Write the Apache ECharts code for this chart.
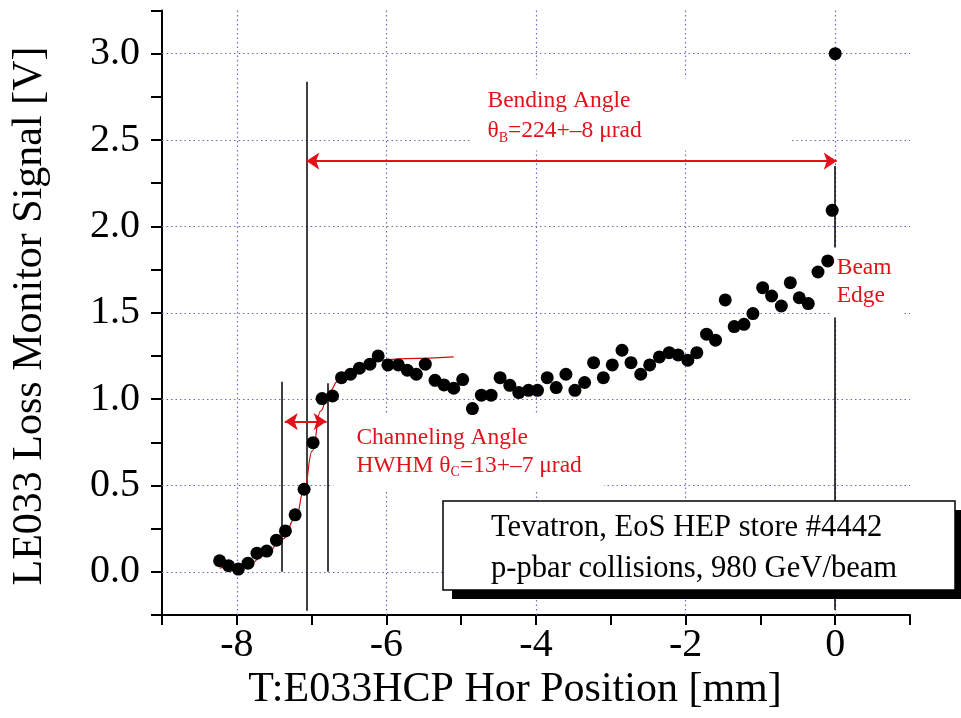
<!DOCTYPE html>
<html>
<head>
<meta charset="utf-8">
<script src="https://cdn.jsdelivr.net/npm/echarts@6/dist/echarts.min.js"></script>
<style>
  html, body { margin: 0; padding: 0; background: #fff; }
  #chart { width: 961px; height: 718px; }
</style>
</head>
<body>
<div id="chart"></div>
<script>
// Axis tick labels (ticks every 1 mm / 0.25 V, labels on the major ones only)
const xLabelValues = [-8, -6, -4, -2, 0];
const xLabelText = ['-8', '-6', '-4', '-2', '0'];
const yLabelValues = [0, 0.5, 1.0, 1.5, 2.0, 2.5, 3.0];
const yLabelText = ['0.0', '0.5', '1.0', '1.5', '2.0', '2.5', '3.0'];

// Collimator horizontal position [mm]
const position = [
  -8.23, -8.11, -7.98, -7.85, -7.73, -7.60, -7.47, -7.35, -7.22, -7.10,
  -6.98, -6.86, -6.72, -6.60, -6.48, -6.36, -6.22, -6.11, -5.98, -5.84,
  -5.72, -5.60, -5.48, -5.35, -5.23, -5.10, -4.98, -4.85, -4.73, -4.60,
  -4.48, -4.35, -4.23, -4.10, -3.98, -3.85, -3.73, -3.60, -3.48, -3.35,
  -3.23, -3.10, -2.98, -2.85, -2.73, -2.60, -2.48, -2.35, -2.22, -2.10,
  -1.97, -1.85, -1.72, -1.60, -1.47, -1.35, -1.22, -1.10, -0.97, -0.85,
  -0.72, -0.60, -0.48, -0.36, -0.23, -0.10, -0.04, 0.00
];
// LE033 loss monitor signal [V]
const signal = [
  0.064, 0.035, 0.016, 0.050, 0.108, 0.120, 0.183, 0.237, 0.330, 0.478,
  0.748, 1.003, 1.018, 1.124, 1.144, 1.179, 1.202, 1.250, 1.198, 1.198,
  1.167, 1.144, 1.202, 1.109, 1.082, 1.063, 1.113, 0.945, 1.023, 1.023,
  1.124, 1.080, 1.038, 1.051, 1.051, 1.124, 1.067, 1.144, 1.051, 1.096,
  1.211, 1.124, 1.198, 1.283, 1.211, 1.144, 1.198, 1.244, 1.269, 1.256,
  1.225, 1.269, 1.376, 1.341, 1.574, 1.420, 1.433, 1.495, 1.645, 1.597,
  1.539, 1.674, 1.587, 1.553, 1.736, 1.800, 2.093, 3.000
];

// Fitted channeling edge curve
const fitX = [-8.23, -7.84, -7.62, -7.39, -7.21, -7.10, -6.99, -6.88, -6.77, -6.64, -6.37, -6.10, -5.74, -5.10];
const fitY = [0.021, 0.045, 0.098, 0.189, 0.314, 0.478, 0.700, 0.930, 1.040, 1.105, 1.186, 1.225, 1.234, 1.244];

// Guide lines [x1, y1, x2, y2] in data units
const guideLines = [
  [-7.07, -0.226, -7.07, 2.837],
  [-7.394, 0.0, -7.394, 1.101],
  [-6.778, 0.0, -6.778, 1.092],
  [0.0, -0.22, 0.0, 2.35]
];
const bendingArrow = [-7.07, 2.378, 0.02, 2.378];
const channelArrow = [-7.358, 0.87, -6.80, 0.87];

// Annotation anchors (top-left of each text block) in data units
const bendingAnchor = [-4.856, 2.853];
const channelAnchor = [-6.702, 0.914];
const beamAnchor = [-0.04, 1.875];

const SERIF = '"Liberation Serif", "Times New Roman", serif';
const RED = '#e3121a';
const GRID_BLUE = '#6a6ac4';

function pickLabel(values, texts) {
  return function (v) {
    const i = values.findIndex(t => Math.abs(t - v) < 1e-9);
    return i < 0 ? '' : texts[i];
  };
}

const points = position.map((x, i) => [x, signal[i]]);
const fitCurve = fitX.map((x, i) => [x, fitY[i]]);

const gridMarks = [
  ...xLabelValues.map(v => ({ xAxis: v })),
  ...yLabelValues.map(v => ({ yAxis: v }))
];

const guideMarks = guideLines.map(g => [
  { coord: [g[0], g[1]], symbol: 'none' },
  { coord: [g[2], g[3]], symbol: 'none' }
]);
const arrowMarks = [bendingArrow, channelArrow].map(a => [
  { coord: [a[0], a[1]], symbol: 'arrow', lineStyle: { color: RED, width: 2 } },
  { coord: [a[2], a[3]], symbol: 'arrow' }
]);

const noteText = {
  fontFamily: SERIF,
  fontSize: 23.5,
  color: RED,
  opacity: 1
};
const subText = {
  fontFamily: SERIF,
  fontSize: 14,
  color: RED,
  opacity: 1,
  verticalAlign: 'bottom',
  padding: [12, 0, 0, 0]
};

const notes = [
  {
    value: bendingAnchor,
    label: {
      formatter: '{a|Bending Angle}\n{a|θ}{s|B}{a|=224+–8 μrad}',
      padding: [7, 150, 5, 16],
      lineHeight: 30,
      rich: { a: Object.assign({ lineHeight: 30 }, noteText), s: Object.assign({ lineHeight: 30 }, subText) }
    }
  },
  {
    value: channelAnchor,
    label: {
      formatter: '{a|Channeling Angle}\n{a|HWHM θ}{s|C}{a|=13+–7 μrad}',
      padding: [10, 22, 11, 23],
      lineHeight: 28,
      rich: { a: Object.assign({ lineHeight: 28 }, noteText), s: Object.assign({ lineHeight: 28 }, subText) }
    }
  },
  {
    value: beamAnchor,
    label: {
      formatter: '{a|Beam}\n{a|Edge}',
      padding: [6, 12, 8, 5],
      lineHeight: 28,
      rich: { a: Object.assign({ lineHeight: 28 }, noteText) }
    }
  }
];

const chart = echarts.init(document.getElementById('chart'));

chart.setOption({
  animation: false,
  backgroundColor: '#fff',
  grid: { left: 162, right: 51, top: 10.5, bottom: 103, containLabel: false },
  xAxis: {
    type: 'value',
    min: -9, max: 1, interval: 1,
    axisLine: { show: true, onZero: false, lineStyle: { color: '#000', width: 2 } },
    axisTick: { show: true, inside: false, length: 10, lineStyle: { color: '#000', width: 2 } },
    splitLine: { show: false },
    axisLabel: {
      formatter: pickLabel(xLabelValues, xLabelText),
      fontFamily: SERIF, fontSize: 40, color: '#000', margin: 10
    }
  },
  yAxis: {
    type: 'value',
    min: -0.25, max: 3.25, interval: 0.25,
    axisLine: { show: true, onZero: false, lineStyle: { color: '#000', width: 2 } },
    axisTick: { show: true, inside: false, length: 11, lineStyle: { color: '#000', width: 2 } },
    splitLine: { show: false },
    axisLabel: {
      formatter: pickLabel(yLabelValues, yLabelText),
      fontFamily: SERIF, fontSize: 40, color: '#000', margin: 22
    }
  },
  series: [
    {
      name: 'grid',
      type: 'line',
      data: [],
      silent: true,
      z: 1,
      markLine: {
        z: 1,
        silent: true,
        symbol: 'none',
        animation: false,
        label: { show: false },
        lineStyle: { color: GRID_BLUE, width: 1.2, type: [1.5, 3], opacity: 1 },
        data: gridMarks
      }
    },
    {
      name: 'guides',
      type: 'line',
      data: [],
      silent: true,
      z: 2,
      markLine: {
        z: 2,
        silent: true,
        animation: false,
        symbolSize: 13,
        label: { show: false },
        lineStyle: { color: '#000', width: 1.5, type: 'solid', opacity: 1 },
        data: guideMarks.concat(arrowMarks)
      }
    },
    {
      name: 'notes',
      type: 'scatter',
      silent: true,
      z: 3,
      symbolSize: 1,
      itemStyle: { color: 'rgba(0,0,0,0)', opacity: 1 },
      label: {
        show: true,
        position: [0, 0],
        align: 'left',
        verticalAlign: 'top',
        backgroundColor: '#fff',
        opacity: 1
      },
      data: notes
    },
    {
      name: 'fit',
      type: 'line',
      data: fitCurve,
      z: 4,
      smooth: 0.5,
      smoothMonotone: 'x',
      showSymbol: false,
      lineStyle: { color: '#d01010', width: 1.2 }
    },
    {
      name: 'signal',
      type: 'scatter',
      data: points,
      z: 5,
      symbol: 'circle',
      symbolSize: 13,
      itemStyle: { color: '#000', opacity: 1 }
    }
  ],
  graphic: [
    {
      type: 'text', z: 100, x: 30, y: 316, rotation: Math.PI / 2,
      style: {
        text: 'LE033 Loss Monitor Signal [V]',
        font: '42px ' + SERIF, fill: '#000',
        align: 'center', verticalAlign: 'middle', textAlign: 'center', textVerticalAlign: 'middle'
      }
    },
    {
      type: 'text', z: 100, x: 515, y: 690,
      style: {
        text: 'T:E033HCP Hor Position [mm]',
        font: '42px ' + SERIF, fill: '#000',
        align: 'center', verticalAlign: 'middle', textAlign: 'center', textVerticalAlign: 'middle'
      }
    },
    {
      type: 'rect', z: 100,
      shape: { x: 452, y: 510, width: 512, height: 89 },
      style: { fill: '#000' }
    },
    {
      type: 'rect', z: 101,
      shape: { x: 443, y: 501, width: 512, height: 89 },
      style: { fill: '#fff', stroke: '#000', lineWidth: 1.5 }
    },
    {
      type: 'text', z: 102, x: 491, y: 528,
      style: {
        text: 'Tevatron, EoS HEP store #4442',
        font: '30.6px ' + SERIF, fill: '#000',
        align: 'left', verticalAlign: 'middle', textAlign: 'left', textVerticalAlign: 'middle'
      }
    },
    {
      type: 'text', z: 102, x: 491, y: 569,
      style: {
        text: 'p-pbar collisions, 980 GeV/beam',
        font: '30.6px ' + SERIF, fill: '#000',
        align: 'left', verticalAlign: 'middle', textAlign: 'left', textVerticalAlign: 'middle'
      }
    }
  ]
});
</script>
</body>
</html>
